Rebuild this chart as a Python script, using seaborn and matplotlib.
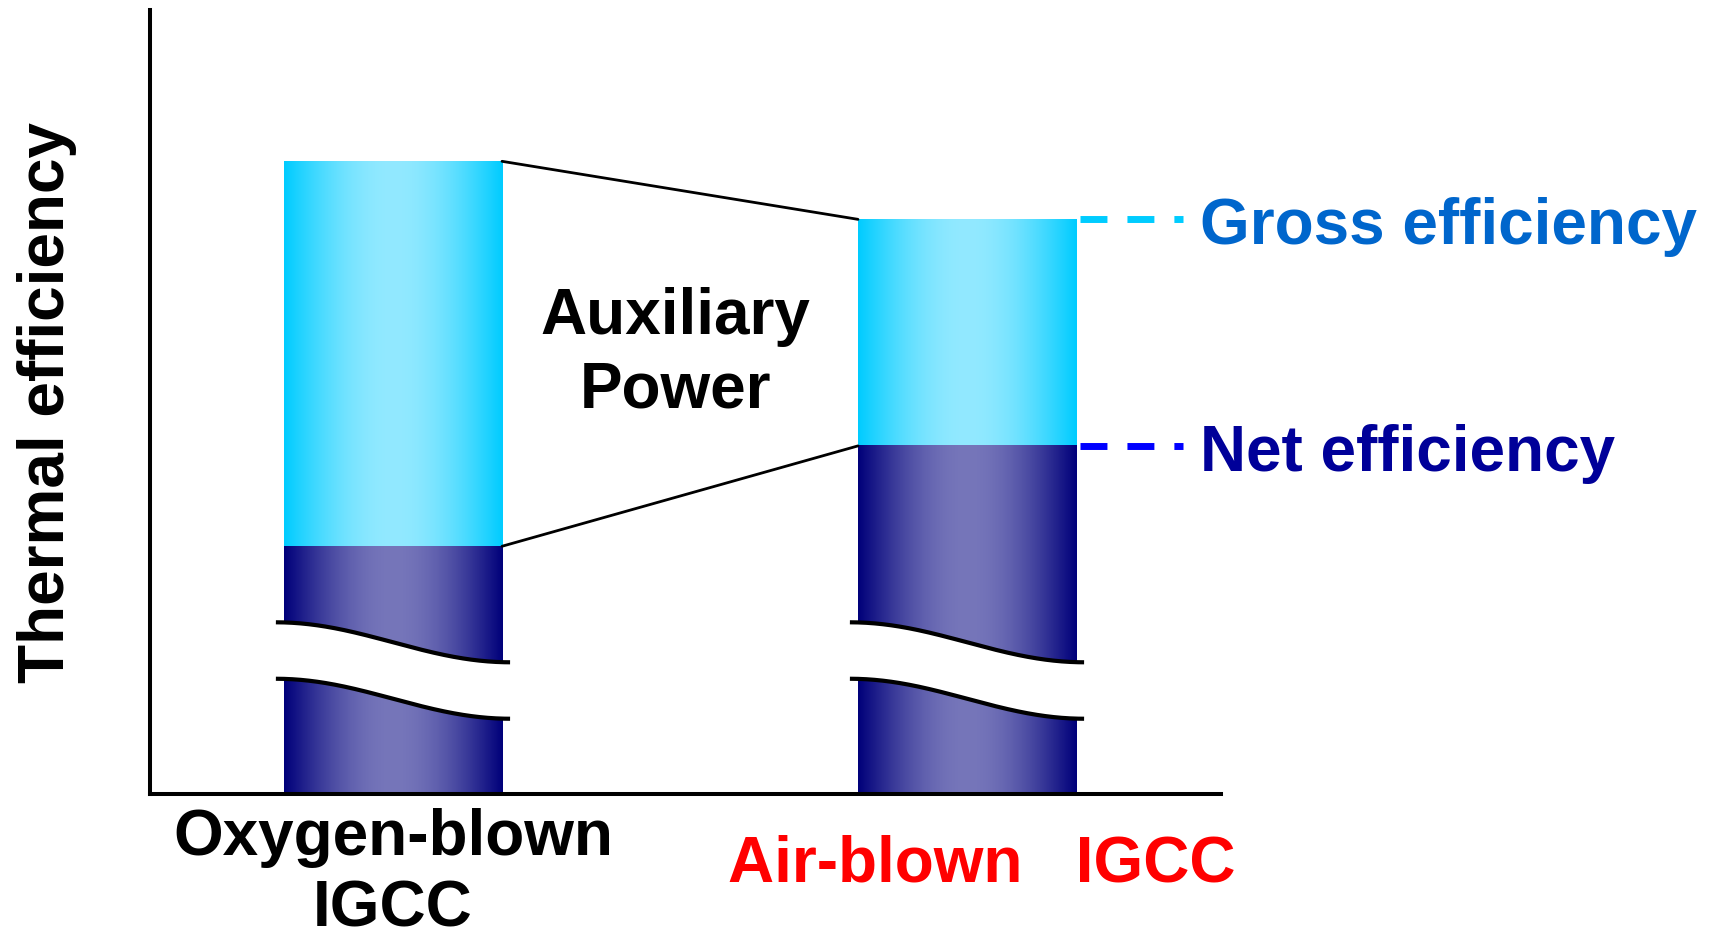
import numpy as np
import pandas as pd
import matplotlib
matplotlib.use("Agg")
import matplotlib.pyplot as plt
import seaborn as sns

# ---- chart content -------------------------------------------------------
categories = ["Oxygen-blown\nIGCC", "Air-blown   IGCC"]
gross_efficiency = [80.7, 73.3]
net_efficiency = [31.6, 44.4]
category_colors = ["#000000", "#FF0000"]
axis_label = "Thermal efficiency"
gap_label = "Auxiliary\nPower"
level_labels = ["Gross efficiency", "Net efficiency"]
level_text_colors = ["#0066CC", "#000099"]
level_dash_colors = ["#00CCFF", "#0000FF"]

# ---- layout / style constants ---------------------------------------------
BAR_W = 0.38
FS = 46
LS = 1.29
LS_CAT = 1.24
label_shift = [0.0, 0.026]          # horizontal nudge of the category captions
label_top = [-1.7, -5.1]            # caption tops (data units, below the axis)
break_upper = (21.9, 16.8)          # axis-break wave: left / right heights
break_gap = 7.2

sns.set_style("white")
plt.rcParams["font.family"] = ["Liberation Sans", "DejaVu Sans"]
plt.rcParams["font.weight"] = "bold"
plt.rcParams["lines.scale_dashes"] = False

W, H = 1712, 937
fig = plt.figure(figsize=(W / 100, H / 100), dpi=100)
ax = fig.add_axes([150 / W, 142 / H, 1071 / W, 784 / H])

df = pd.DataFrame({"plant": categories,
                   "gross": gross_efficiency,
                   "net": net_efficiency})

sns.barplot(data=df, x="plant", y="gross", width=BAR_W, color="#00CCFF",
            errorbar=None, ax=ax, linewidth=0)
gross_bars = list(ax.patches)
sns.barplot(data=df, x="plant", y="net", width=BAR_W, color="#000080",
            errorbar=None, ax=ax, linewidth=0)
net_bars = list(ax.patches[len(gross_bars):])


def gradient_bar(bar, edge, mid, z):
    """Replace a flat bar with a horizontal edge-to-centre-to-edge gradient."""
    x0, y0 = bar.get_x(), bar.get_y()
    w, h = bar.get_width(), bar.get_height()
    t = np.linspace(0, 1, 256)
    s = np.sin(np.pi * t)
    edge = np.array(edge) / 255.0
    mid = np.array(mid) / 255.0
    rgb = edge + (mid - edge) * s[:, None]
    ax.imshow(rgb[None, :, :], extent=[x0, x0 + w, y0, y0 + h],
              aspect="auto", origin="lower", interpolation="bilinear",
              zorder=z)
    bar.set_visible(False)


for b in gross_bars:
    gradient_bar(b, (0, 204, 255), (146, 233, 255), 1.5)
for b in net_bars:
    gradient_bar(b, (0, 0, 122), (118, 118, 186), 1.6)


def axis_break(bar, pad=0.014):
    x0 = bar.get_x() - pad
    x1 = bar.get_x() + bar.get_width() + pad
    xs = np.linspace(x0, x1, 200)
    s = (1 - np.cos(np.pi * (xs - x0) / (x1 - x0))) / 2
    upper = break_upper[0] + (break_upper[1] - break_upper[0]) * s
    lower = upper - break_gap
    ax.fill_between(xs, lower, upper, color="white", lw=0, zorder=3)
    ax.plot(xs, upper, color="black", lw=3.0, zorder=4, solid_capstyle="butt")
    ax.plot(xs, lower, color="black", lw=3.0, zorder=4, solid_capstyle="butt")


for b in net_bars:
    axis_break(b)

# connectors between the two bars
b0, b1 = gross_bars
right0 = b0.get_x() + b0.get_width()
left1 = b1.get_x()
ax.plot([right0, left1], [gross_efficiency[0], gross_efficiency[1]],
        color="black", lw=2.0, zorder=2)
ax.plot([right0, left1], [net_efficiency[0], net_efficiency[1]],
        color="black", lw=2.0, zorder=2)

ax.text(0.492, 64.8, gap_label, ha="center", va="top", fontsize=FS,
        multialignment="center", linespacing=LS, color="black")

# dashed leaders to the level captions
right1 = b1.get_x() + b1.get_width()
lead = 0.18
for val, lab, tcol, dcol in zip([gross_efficiency[1], net_efficiency[1]],
                                level_labels, level_text_colors,
                                level_dash_colors):
    ax.plot([right1 + 0.006, right1 + 0.006 + lead], [val, val], color=dcol,
            lw=5, dashes=(19.4, 14.4), dash_capstyle="butt", clip_on=False,
            zorder=2)
    ax.annotate(lab, xy=(right1 + 0.006 + lead, val), xytext=(12.5, -17),
                textcoords="offset points", ha="left", va="baseline",
                fontsize=FS, color=tcol, annotation_clip=False)

# category captions
for i, (cat, col) in enumerate(zip(categories, category_colors)):
    bar = gross_bars[i]
    xc = bar.get_x() + bar.get_width() / 2 + label_shift[i]
    ax.text(xc, label_top[i], cat, ha="center", va="top", fontsize=FS,
            color=col, multialignment="center", linespacing=LS_CAT,
            clip_on=False)

ax.text(-0.603, 50.1, axis_label, rotation=90, ha="center", va="center",
        fontsize=FS, color="black", clip_on=False)

ax.set_xlim(-0.4233, 1.4425)
ax.set_ylim(0, 100)
ax.set_xticks([])
ax.set_yticks([])
ax.set_xlabel("")
ax.set_ylabel("")
for side in ["top", "right"]:
    ax.spines[side].set_visible(False)
for side in ["left", "bottom"]:
    ax.spines[side].set_linewidth(2.9)
    ax.spines[side].set_color("black")
    ax.spines[side].set_capstyle("projecting")

fig.savefig("out.png", dpi=100, facecolor="white")
